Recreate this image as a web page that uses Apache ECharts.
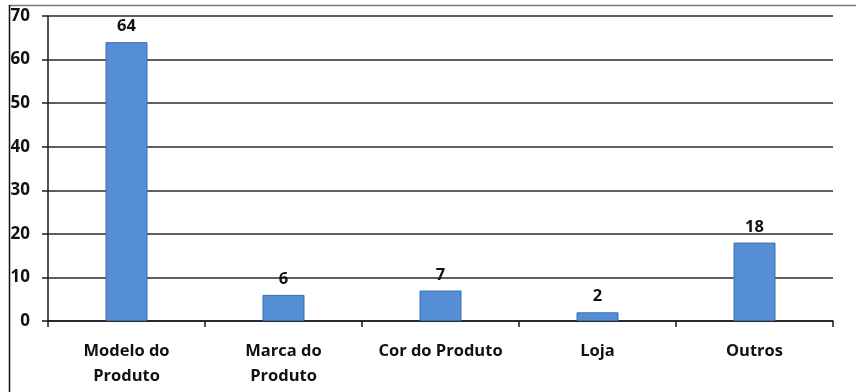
<!DOCTYPE html>
<html>
<head>
<meta charset="utf-8">
<script src="https://cdn.jsdelivr.net/npm/echarts@6/dist/echarts.min.js"></script>
<style>
  html, body { margin: 0; padding: 0; background: #fff; }
  #chart { width: 856px; height: 392px; }
</style>
</head>
<body>
<div id="chart"></div>
<script>
// Categories and counts shown on the bar chart
const categories = ['Modelo do\nProduto', 'Marca do\nProduto', 'Cor do Produto', 'Loja', 'Outros'];
const counts = [64, 6, 7, 2, 18];
const yTicks = [0, 10, 20, 30, 40, 50, 60, 70];

const FONT = '"Open Sans", "DejaVu Sans", sans-serif';

const chart = echarts.init(document.getElementById('chart'));
chart.setOption({
  animation: false,
  backgroundColor: '#ffffff',
  grid: { left: 48, right: 23, top: 16, bottom: 71, containLabel: false },
  xAxis: {
    type: 'category',
    data: categories,
    axisLine: { show: true, lineStyle: { color: '#1a1a1a', width: 1.5 } },
    axisTick: { show: true, length: 6, lineStyle: { color: '#1a1a1a', width: 1.5 } },
    axisLabel: {
      color: '#111',
      fontFamily: FONT,
      fontSize: 16.5,
      fontWeight: 'bold',
      lineHeight: 25,
      margin: 18,
      interval: 0
    }
  },
  yAxis: {
    type: 'value',
    min: yTicks[0],
    max: yTicks[yTicks.length - 1],
    interval: 10,
    axisLine: { show: true, lineStyle: { color: '#1a1a1a', width: 1.5 } },
    axisTick: { show: true, length: 6, lineStyle: { color: '#1a1a1a', width: 1.5 } },
    splitLine: { show: true, lineStyle: { color: '#2a2a2a', width: 1.5 } },
    axisLabel: {
      color: '#111',
      fontFamily: FONT,
      fontSize: 17,
      fontWeight: 'bold',
      margin: 18
    }
  },
  series: [{
    type: 'bar',
    data: counts,
    barWidth: 42,
    itemStyle: { color: '#558ed5', borderColor: '#3d6eb0', borderWidth: 1 },
    label: {
      show: true,
      position: 'top',
      distance: 7,
      color: '#111',
      fontFamily: FONT,
      fontSize: 16.5,
      fontWeight: 'bold'
    }
  }],
  graphic: [
    { type: 'line', shape: { x1: 9, y1: 5.5, x2: 856, y2: 5.5 }, style: { stroke: '#777', lineWidth: 1.5 } },
    { type: 'line', shape: { x1: 9.5, y1: 5, x2: 9.5, y2: 392 }, style: { stroke: '#111', lineWidth: 1.5 } }
  ]
});
</script>
</body>
</html>
